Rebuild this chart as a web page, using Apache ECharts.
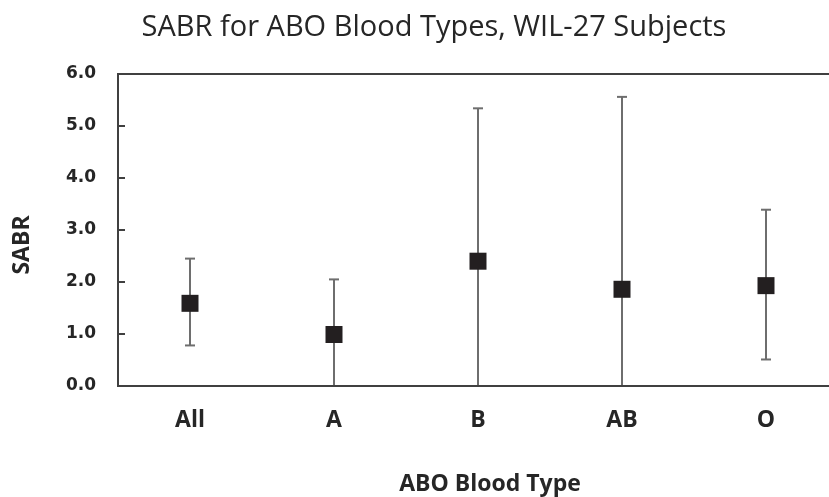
<!DOCTYPE html>
<html>
<head>
<meta charset="utf-8">
<script src="https://cdn.jsdelivr.net/npm/echarts@6/dist/echarts.min.js"></script>
<style>
  html, body { margin: 0; padding: 0; background: #fff; }
  #chart { width: 829px; height: 497px; }
</style>
</head>
<body>
<div id="chart"></div>
<script>
// 血型分类与 SABR 数值（均值、误差上下限）
var categories = ['All', 'A', 'B', 'AB', 'O'];
var means = [1.59, 0.99, 2.40, 1.86, 1.93];
var upper = [2.45, 2.05, 5.34, 5.56, 3.39];
var lower = [0.78, 0, 0, 0, 0.51];
var yTicks = [0, 1, 2, 3, 4, 5, 6];

var myChart = echarts.init(document.getElementById('chart'));

var errData = [];
for (var i = 0; i < categories.length; i++) {
    errData.push([i, lower[i], upper[i]]);
}

var option = {
    animation: false,
    title: {
        text: 'SABR for ABO Blood Types, WIL-27 Subjects',
        left: 429,
        top: 8,
        textAlign: 'center',
        textStyle: {
            fontFamily: 'Open Sans',
            fontWeight: 'normal',
            fontSize: 29,
            color: '#262626'
        }
    },
    grid: {
        left: 118,
        top: 74,
        right: -9,
        height: 312,
        outerBoundsMode: 'none',
        show: true,
        borderColor: '#404040',
        borderWidth: 2,
        backgroundColor: 'transparent'
    },
    xAxis: {
        type: 'category',
        data: categories,
        z: 5,
        axisLine: { lineStyle: { color: '#404040', width: 2 } },
        axisTick: { show: false },
        axisLabel: {
            margin: 23,
            fontFamily: 'Open Sans',
            fontWeight: 'bold',
            fontSize: 23,
            color: '#262626'
        },
        name: 'ABO Blood Type',
        nameLocation: 'middle',
        nameGap: 87,
        nameTextStyle: {
            fontFamily: 'Open Sans',
            fontWeight: 'bold',
            fontSize: 23,
            color: '#262626',
            padding: [0, 0, 0, 24]
        }
    },
    yAxis: {
        type: 'value',
        min: yTicks[0],
        max: yTicks[yTicks.length - 1],
        interval: 1,
        z: 5,
        axisLine: { show: true, lineStyle: { color: '#404040', width: 2 } },
        axisTick: { show: true, inside: true, length: 7, lineStyle: { color: '#404040', width: 2 } },
        splitLine: { show: false },
        axisLabel: {
            margin: 22,
            fontFamily: 'DejaVu Sans',
            fontWeight: 'bold',
            fontSize: 17,
            color: '#262626',
            formatter: function (v) { return v.toFixed(1); }
        },
        name: 'SABR',
        nameLocation: 'middle',
        nameGap: 84,
        nameRotate: 90,
        nameTextStyle: {
            fontFamily: 'Open Sans',
            fontWeight: 'bold',
            fontSize: 23,
            color: '#262626',
            padding: [0, 30, 0, 0]
        }
    },
    series: [
        {
            type: 'custom',
            name: 'error',
            data: errData,
            z: 2,
            renderItem: function (params, api) {
                var x = api.value(0);
                var lo = api.coord([x, api.value(1)]);
                var hi = api.coord([x, api.value(2)]);
                var capW = 5;
                var style = { stroke: '#6e6e6e', lineWidth: 2 };
                return {
                    type: 'group',
                    children: [
                        { type: 'line', shape: { x1: hi[0], y1: hi[1], x2: lo[0], y2: lo[1] }, style: style },
                        { type: 'line', shape: { x1: hi[0] - capW, y1: hi[1], x2: hi[0] + capW, y2: hi[1] }, style: style },
                        { type: 'line', shape: { x1: lo[0] - capW, y1: lo[1], x2: lo[0] + capW, y2: lo[1] }, style: style }
                    ]
                };
            }
        },
        {
            type: 'scatter',
            name: 'SABR',
            data: means,
            symbol: 'rect',
            symbolSize: 17,
            z: 3,
            itemStyle: { color: '#231f20', opacity: 1 }
        }
    ]
};

myChart.setOption(option);
window.addEventListener('resize', function () {
    myChart.resize();
});
</script>
</body>
</html>
